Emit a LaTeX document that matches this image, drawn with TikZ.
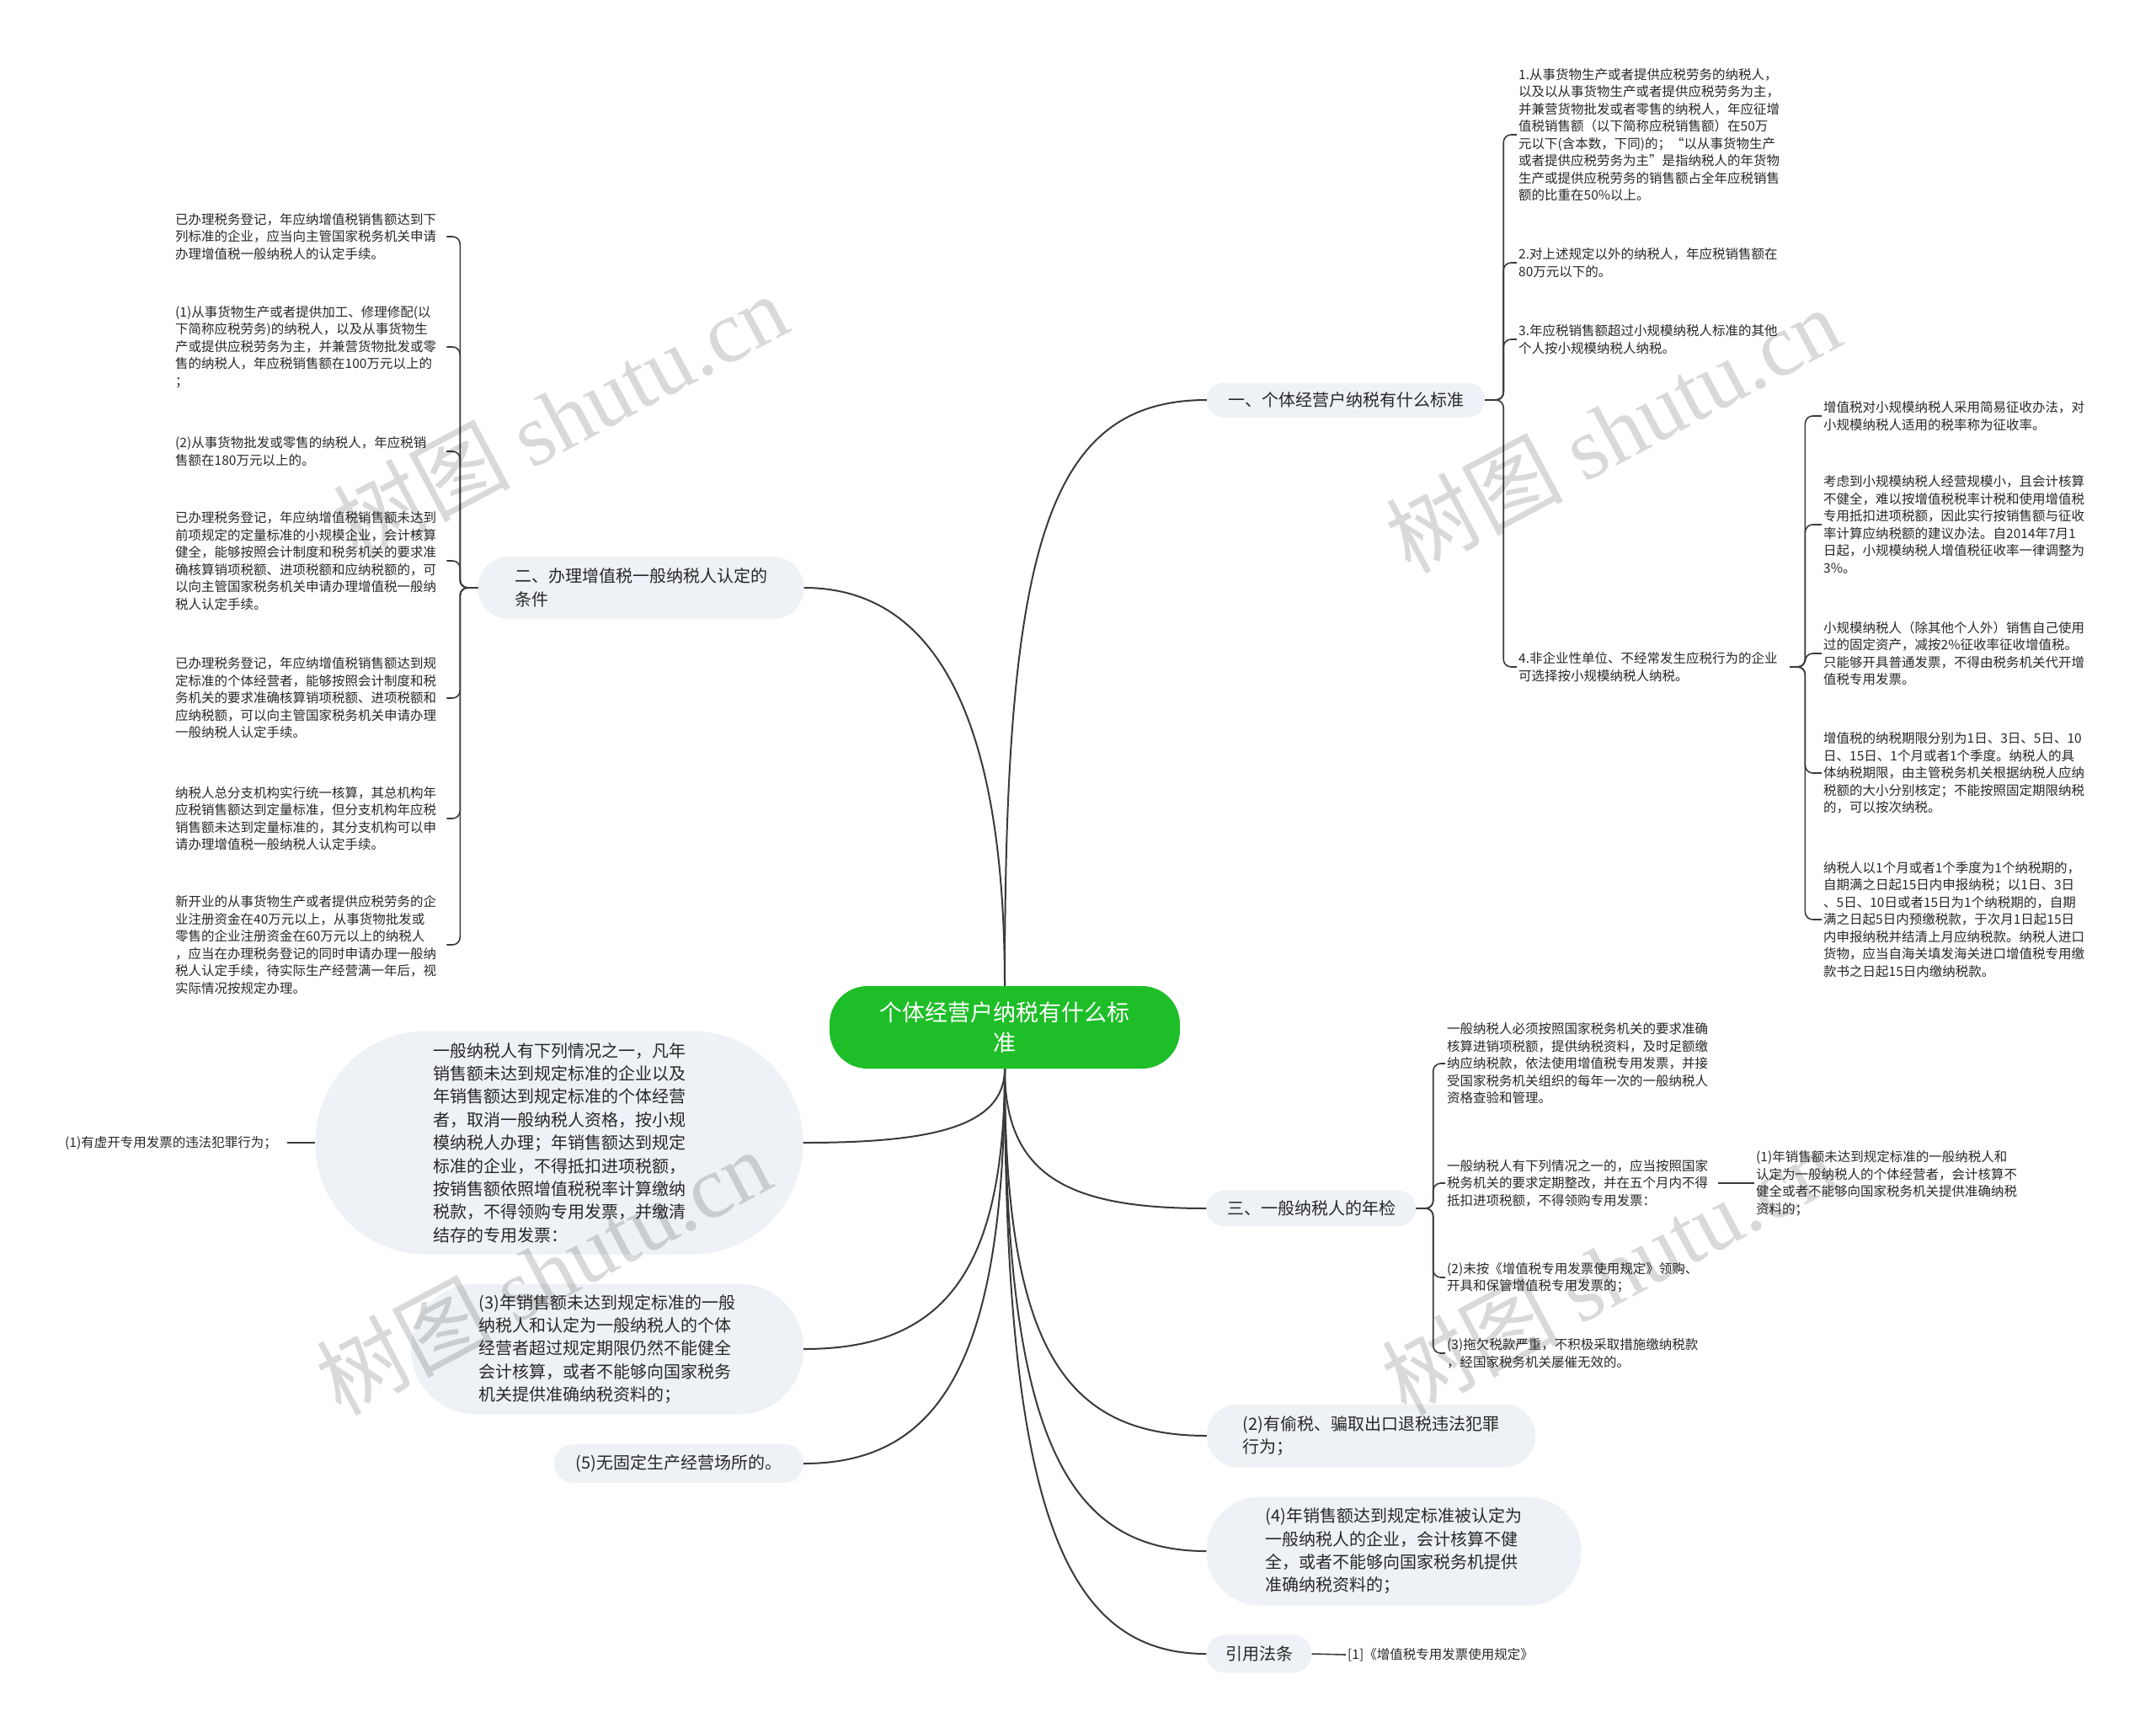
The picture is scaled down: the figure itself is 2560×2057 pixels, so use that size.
\documentclass[tikz,border=0pt]{standalone}
\usepackage{fontspec}
\setmainfont{Noto Sans CJK SC}
\newfontfamily\marklatin{Liberation Serif}
\usetikzlibrary{positioning,calc}
\definecolor{rootgreen}{RGB}{30,190,40}
\definecolor{bubblegray}{RGB}{238,241,245}
\definecolor{linkgray}{RGB}{58,58,58}
\definecolor{textdark}{RGB}{40,40,40}

\begin{document}
\begin{tikzpicture}[x=1pt, y=-1pt,
  rootnode/.style={fill=rootgreen, text=white, align=center, inner sep=0pt,
    minimum width=416pt, minimum height=98pt, rounded corners=45pt,
    font=\fontsize{27}{36}\selectfont},
  topic/.style={fill=bubblegray, text=textdark, align=left, inner sep=0pt,
    font=\fontsize{20}{27.4}\selectfont},
  leaf/.style={anchor=west, align=left, text width=320pt, inner sep=2pt,
    text=textdark, font=\fontsize{15.5}{20.5}\selectfont},
  mainlink/.style={draw=linkgray, line width=2pt},
  sublink/.style={draw=linkgray, line width=1.6pt, rounded corners=9pt},
  watermark/.style={rotate=28, text=black, text opacity=0.15,
    font=\fontsize{105}{105}\selectfont},
]
  \fill[white] (0,0) rectangle (2560,2057);
  \useasboundingbox (0,0) rectangle (2560,2057);

  % === ROOT ===
  \node[rootnode] (root) at (1193,1220) {个体经营户纳税有什么标\\准};

  % === MAIN TOPICS ===
  \node[topic, minimum width=330pt, minimum height=41pt, rounded corners=20pt]
    (b1) at (1598,475) {一、个体经营户纳税有什么标准};
  \node[topic, minimum width=387pt, minimum height=74pt, rounded corners=37pt]
    (b2) at (761,698) {二、办理增值税一般纳税人认定的\\条件};
  \node[topic, minimum width=249pt, minimum height=42pt, rounded corners=21pt]
    (b3) at (1557,1435) {三、一般纳税人的年检};

  % Bubbles left
  \node[topic, minimum width=579pt, minimum height=265pt, rounded corners=132pt]
    (bub1) at (664,1357) {一般纳税人有下列情况之一，凡年\\销售额未达到规定标准的企业以及\\年销售额达到规定标准的个体经营\\者，取消一般纳税人资格，按小规\\模纳税人办理；年销售额达到规定\\标准的企业，不得抵扣进项税额，\\按销售额依照增值税税率计算缴纳\\税款，不得领购专用发票，并缴清\\结存的专用发票：};
  \node[topic, minimum width=466pt, minimum height=155pt, rounded corners=77pt]
    (bub3) at (721,1602) {(3)年销售额未达到规定标准的一般\\纳税人和认定为一般纳税人的个体\\经营者超过规定期限仍然不能健全\\会计核算，或者不能够向国家税务\\机关提供准确纳税资料的；};
  \node[topic, minimum width=296pt, minimum height=46pt, rounded corners=23pt]
    (bub5) at (806,1738) {(5)无固定生产经营场所的。};

  % Bubbles right
  \node[topic, minimum width=390pt, minimum height=75pt, rounded corners=37pt]
    (bub2) at (1628,1705) {(2)有偷税、骗取出口退税违法犯罪\\行为；};
  \node[topic, minimum width=445pt, minimum height=129pt, rounded corners=64pt]
    (bub4) at (1655,1842) {(4)年销售额达到规定标准被认定为\\一般纳税人的企业，会计核算不健\\全，或者不能够向国家税务机提供\\准确纳税资料的；};
  \node[topic, minimum width=125pt, minimum height=45pt, rounded corners=22pt]
    (law) at (1495,1964) {引用法条};

  % === LEAVES: branch one ===
  \node[leaf] (c1) at (1801,160) {1.从事货物生产或者提供应税劳务的纳税人，\\以及以从事货物生产或者提供应税劳务为主，\\并兼营货物批发或者零售的纳税人，年应征增\\值税销售额（以下简称应税销售额）在50万\\元以下(含本数，下同)的；“以从事货物生产\\或者提供应税劳务为主”是指纳税人的年货物\\生产或提供应税劳务的销售额占全年应税销售\\额的比重在50\%以上。};
  \node[leaf] (c2) at (1801,312) {2.对上述规定以外的纳税人，年应税销售额在\\80万元以下的。};
  \node[leaf] (c3) at (1801,403) {3.年应税销售额超过小规模纳税人标准的其他\\个人按小规模纳税人纳税。};
  \node[leaf] (c4) at (1801,792) {4.非企业性单位、不经常发生应税行为的企业\\可选择按小规模纳税人纳税。};

  \node[leaf] (d1) at (2163,494) {增值税对小规模纳税人采用简易征收办法，对\\小规模纳税人适用的税率称为征收率。};
  \node[leaf] (d2) at (2163,623) {考虑到小规模纳税人经营规模小，且会计核算\\不健全，难以按增值税税率计税和使用增值税\\专用抵扣进项税额，因此实行按销售额与征收\\率计算应纳税额的建议办法。自2014年7月1\\日起，小规模纳税人增值税征收率一律调整为\\3\%。};
  \node[leaf] (d3) at (2163,776) {小规模纳税人（除其他个人外）销售自己使用\\过的固定资产，减按2\%征收率征收增值税。\\只能够开具普通发票，不得由税务机关代开增\\值税专用发票。};
  \node[leaf] (d4) at (2163,918) {增值税的纳税期限分别为1日、3日、5日、10\\日、15日、1个月或者1个季度。纳税人的具\\体纳税期限，由主管税务机关根据纳税人应纳\\税额的大小分别核定；不能按照固定期限纳税\\的，可以按次纳税。};
  \node[leaf] (d5) at (2163,1092) {纳税人以1个月或者1个季度为1个纳税期的，\\自期满之日起15日内申报纳税；以1日、3日\\、5日、10日或者15日为1个纳税期的，自期\\满之日起5日内预缴税款，于次月1日起15日\\内申报纳税并结清上月应纳税款。纳税人进口\\货物，应当自海关填发海关进口增值税专用缴\\款书之日起15日内缴纳税款。};

  % === LEAVES: branch two ===
  \node[leaf] (e1) at (206,281) {已办理税务登记，年应纳增值税销售额达到下\\列标准的企业，应当向主管国家税务机关申请\\办理增值税一般纳税人的认定手续。};
  \node[leaf] (e2) at (206,412) {(1)从事货物生产或者提供加工、修理修配(以\\下简称应税劳务)的纳税人，以及从事货物生\\产或提供应税劳务为主，并兼营货物批发或零\\售的纳税人，年应税销售额在100万元以上的\\；};
  \node[leaf] (e3) at (206,536) {(2)从事货物批发或零售的纳税人，年应税销\\售额在180万元以上的。};
  \node[leaf] (e4) at (206,666) {已办理税务登记，年应纳增值税销售额未达到\\前项规定的定量标准的小规模企业，会计核算\\健全，能够按照会计制度和税务机关的要求准\\确核算销项税额、进项税额和应纳税额的，可\\以向主管国家税务机关申请办理增值税一般纳\\税人认定手续。};
  \node[leaf] (e5) at (206,829) {已办理税务登记，年应纳增值税销售额达到规\\定标准的个体经营者，能够按照会计制度和税\\务机关的要求准确核算销项税额、进项税额和\\应纳税额，可以向主管国家税务机关申请办理\\一般纳税人认定手续。};
  \node[leaf] (e6) at (206,972) {纳税人总分支机构实行统一核算，其总机构年\\应税销售额达到定量标准，但分支机构年应税\\销售额未达到定量标准的，其分支机构可以申\\请办理增值税一般纳税人认定手续。};
  \node[leaf] (e7) at (206,1122) {新开业的从事货物生产或者提供应税劳务的企\\业注册资金在40万元以上，从事货物批发或\\零售的企业注册资金在60万元以上的纳税人\\，应当在办理税务登记的同时申请办理一般纳\\税人认定手续，待实际生产经营满一年后，视\\实际情况按规定办理。};

  % === LEAVES: branch three ===
  \node[leaf] (f1) at (1716,1263) {一般纳税人必须按照国家税务机关的要求准确\\核算进销项税额，提供纳税资料，及时足额缴\\纳应纳税款，依法使用增值税专用发票，并接\\受国家税务机关组织的每年一次的一般纳税人\\资格查验和管理。};
  \node[leaf] (f2) at (1716,1405) {一般纳税人有下列情况之一的，应当按照国家\\税务机关的要求定期整改，并在五个月内不得\\抵扣进项税额，不得领购专用发票：};
  \node[leaf] (f3) at (1716,1517) {(2)未按《增值税专用发票使用规定》领购、\\开具和保管增值税专用发票的；};
  \node[leaf] (f4) at (1716,1607) {(3)拖欠税款严重，不积极采取措施缴纳税款\\，经国家税务机关屡催无效的。};
  \node[leaf] (g1) at (2083,1405) {(1)年销售额未达到规定标准的一般纳税人和\\认定为一般纳税人的个体经营者，会计核算不\\健全或者不能够向国家税务机关提供准确纳税\\资料的；};

  % Small leaves
  \node[leaf, text width=262pt] (lf1) at (75,1357) {(1)有虚开专用发票的违法犯罪行为；};
  \node[leaf] (lawref) at (1598,1965) {[1]《增值税专用发票使用规定》};

  % === MAIN LINKS ===
  \draw[mainlink] (root.north) .. controls +(0,-520) and +(-190,0) .. (b1.west);
  \draw[mainlink] (root.north) .. controls +(0,-330) and +(150,0) .. (b2.east);
  \draw[mainlink] (root.south) .. controls +(0,70) and +(150,0) .. (bub1.east);
  \draw[mainlink] (root.south) .. controls +(0,250) and +(160,0) .. (bub3.east);
  \draw[mainlink] (root.south) .. controls +(0,350) and +(160,0) .. (bub5.east);
  \draw[mainlink] (root.south) .. controls +(0,130) and +(-160,0) .. (b3.west);
  \draw[mainlink] (root.south) .. controls +(0,330) and +(-170,0) .. (bub2.west);
  \draw[mainlink] (root.south) .. controls +(0,430) and +(-170,0) .. (bub4.west);
  \draw[mainlink] (root.south) .. controls +(0,520) and +(-170,0) .. (law.west);

  % === SUB LINKS ===
  \foreach \n in {c1,c2,c3,c4}
    \draw[sublink] (b1.east) -- ++(22,0) |- (\n.west);
  \foreach \n in {d1,d2,d3,d4,d5}
    \draw[sublink] (c4.east) -- ++(18,0) |- (\n.west);
  \foreach \n in {e1,e2,e3,e4,e5,e6,e7}
    \draw[sublink] (b2.west) -- ++(-21,0) |- (\n.east);
  \foreach \n in {f1,f2,f3,f4}
    \draw[sublink] (b3.east) -- ++(20,0) |- (\n.west);
  \draw[sublink] (f2.east) -- (g1.west);
  \draw[sublink] (lf1.east) -- (bub1.west);
  \draw[sublink] (law.east) -- (lawref.west);

  % === WATERMARKS ===
  \node[watermark] (wm1) at (665,494) {树图 {\marklatin shutu.cn}};
  \node[watermark] (wm2) at (1915,510) {树图 {\marklatin shutu.cn}};
  \node[watermark] (wm3) at (645,1510) {树图 {\marklatin shutu.cn}};
  \node[watermark] (wm4) at (1910,1510) {树图 {\marklatin shutu.cn}};
\end{tikzpicture}
\end{document}
